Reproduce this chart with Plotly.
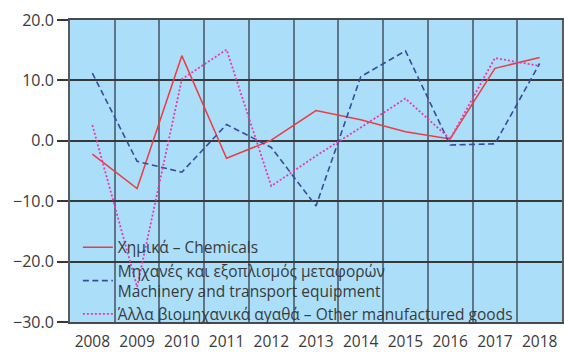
import plotly.graph_objects as go

# Annual % change by product group
years = ["2008", "2009", "2010", "2011", "2012", "2013", "2014", "2015", "2016", "2017", "2018"]
chemicals = [-2.2, -7.9, 14.1, -2.9, 0.1, 5.0, 3.5, 1.5, 0.3, 12.0, 13.8]
machinery = [11.2, -3.4, -5.2, 2.7, -1.1, -10.8, 10.6, 14.9, -0.7, -0.5, 12.8]
other_goods = [2.6, -24.2, 10.2, 15.1, -7.5, -2.5, 2.2, 7.0, 0.3, 13.7, 12.4]

names = [
    "Χημικά – Chemicals",
    "Μηχανές και εξοπλισμός μεταφορών<br>Machinery and transport equipment",
    "Άλλα βιομηχανικά αγαθά – Other manufactured goods",
]
y_ticks = [20, 10, 0, -10, -20, -30]

FONT = "Open Sans"
TEXT = "#3a3a3a"

fig = go.Figure()
fig.add_trace(go.Scatter(x=years, y=chemicals, name=names[0], mode="lines",
                         line=dict(color="#ee3b43", width=1.5)))
fig.add_trace(go.Scatter(x=years, y=machinery, name=names[1], mode="lines",
                         line=dict(color="#3a4aa0", width=1.6, dash="6px,3.5px")))
fig.add_trace(go.Scatter(x=years, y=other_goods, name=names[2], mode="lines",
                         line=dict(color="#e83aae", width=1.8, dash="2px,2px")))

fig.update_layout(
    width=564, height=353,
    margin=dict(l=70, r=2, t=20, b=31, autoexpand=False),
    paper_bgcolor="white",
    plot_bgcolor="#abdff9",
    font=dict(family=FONT, size=16, color=TEXT),
    showlegend=True,
    legend=dict(
        x=0.016, y=0.302, xanchor="left", yanchor="top",
        bgcolor="rgba(0,0,0,0)", borderwidth=0,
        font=dict(family=FONT, size=15.5, color=TEXT),
        tracegroupgap=0,
    ),
    xaxis=dict(
        type="category", range=[-0.5, 10.5], tickson="boundaries",
        showgrid=True, gridcolor="rgba(50,60,70,0.65)", gridwidth=2,
        showline=True, mirror=True, linecolor="#4a4a4a", linewidth=2,
        ticks="", tickangle=0, automargin=False, ticklabelstandoff=4,
        tickfont=dict(family=FONT, size=15.5, color=TEXT),
    ),
    yaxis=dict(
        range=[-30, 20], tickvals=y_ticks, tickformat=".1f",
        showgrid=True, gridcolor="#383838", gridwidth=1.5,
        zeroline=False, automargin=False,
        showline=True, mirror=True, linecolor="#5a5a5a", linewidth=2,
        ticks="outside", ticklen=11, tickcolor="#383838", tickwidth=1.5,
        tickfont=dict(family=FONT, size=16, color=TEXT),
    ),
)

fig.write_html("out.html")
